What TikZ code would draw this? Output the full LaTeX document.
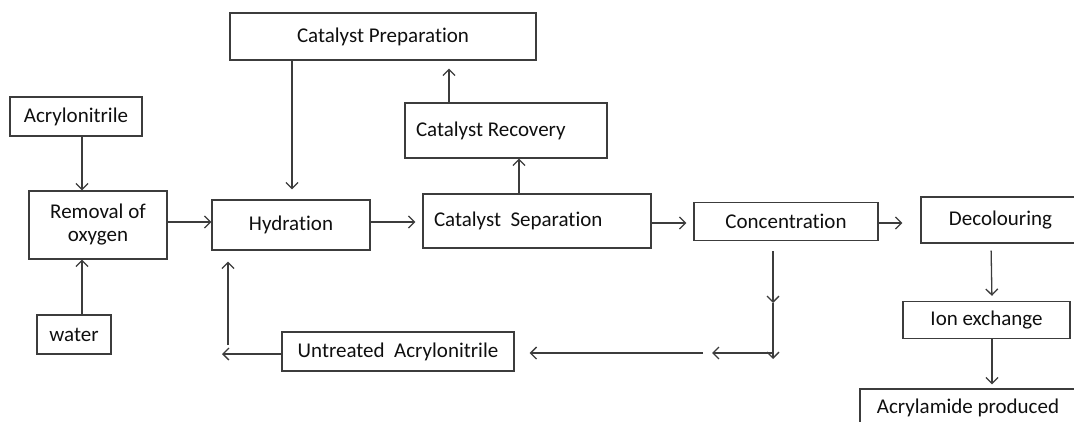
\documentclass[tikz,border=0pt]{standalone}
\usepackage{fontspec}
\setmainfont[Ligatures=NoCommon]{Carlito}
\definecolor{linegray}{RGB}{60, 60, 60}
\definecolor{textgray}{RGB}{15, 15, 15}
\usepackage{tikz}
\usetikzlibrary{arrows.meta, calc}
\tikzset{
    box/.style={rectangle, draw=linegray, line width=1.3pt, inner sep=0pt, align=center, text=textgray, font=\fontsize{21}{23}\selectfont},
    leftbox/.style={box, inner xsep=11pt, align=flush left},
    arrow/.style={line width=1.3pt, linegray, -{Straight Barb[length=6pt, width=12pt, line width=1.3pt]}},
    plain/.style={line width=1.3pt, linegray}
}

\begin{document}
\begin{tikzpicture}[x=1pt, y=-1pt]
    \useasboundingbox (0,0) rectangle (1074,421);
    \clip (0,0) rectangle (1074,421);

    % Feed side
    \node[box, minimum width=132pt, minimum height=39pt] (acrylo) at (76, 116.5) {Acrylonitrile};
    \node[box, minimum width=138pt, minimum height=68pt] (removal) at (98, 225) {Removal of\\oxygen};
    \node[box, minimum width=74pt, minimum height=39pt] (water) at (74, 334.5) {water};

    % Reactor and catalyst loop
    \node[box, minimum width=158pt, minimum height=50pt] (hydration) at (291, 225) {Hydration};
    \node[box, minimum width=306pt, minimum height=47pt] (catprep) at (383, 36.5) {Catalyst Preparation};
    \node[leftbox, text width=180pt, minimum height=55pt] (catrec) at (506, 130.5) {Catalyst Recovery};
    \node[leftbox, text width=206pt, minimum height=54pt] (catsep) at (537, 221) {Catalyst\ \ Separation};

    % Product side
    \node[box, minimum width=184pt, minimum height=38pt] (conc) at (786, 221.5) {Concentration};
    \node[box, minimum width=159pt, minimum height=46pt] (decol) at (1000.5, 220) {Decolouring};
    \node[box, minimum width=167pt, minimum height=37pt] (ionex) at (986.5, 320) {Ion exchange};
    \node[box, minimum width=216pt, minimum height=38pt] (product) at (968, 408) {Acrylamide produced};

    % Recycle
    \node[box, minimum width=232pt, minimum height=39pt] (untreated) at (398, 351.5) {Untreated\ \ Acrylonitrile};
    \coordinate (drop) at (773, 303);
    \coordinate (dropend) at (773, 359);
    \coordinate (bend) at (773, 353);
    \coordinate (midtip) at (712, 353);
    \coordinate (midgap) at (703, 353);
    \coordinate (ret) at (222, 354);
    \coordinate (rise) at (228, 345);

    % Arrows
    \draw[arrow] ($(acrylo.south)+(6,0)$) -- ($(removal.north)+(-16,0)$);
    \draw[arrow] ($(water.north)+(8,0)$) -- ($(removal.south)+(-16,0)$);
    \draw[arrow] (removal.east |- 0,222) -- (hydration.west |- 0,222);
    \draw[arrow, shorten >=10pt] ($(catprep.south)+(-91,0)$) -- ($(hydration.north)+(1,0)$);
    \draw[arrow, shorten >=7pt] (hydration.east |- 0,222) -- (catsep.west |- 0,222);
    \draw[arrow] ($(catsep.north)+(-18,0)$) -- ($(catrec.south)+(13,0)$);
    \draw[arrow, shorten >=8pt] ($(catrec.north)+(-57,0)$) -- ($(catprep.south)+(66,0)$);
    \draw[arrow, shorten >=7pt] (catsep.east |- 0,223) -- (conc.west |- 0,223);
    \draw[arrow, shorten >=18pt] (conc.east |- 0,223) -- (decol.west |- 0,223);
    \draw[arrow, shorten <=7pt, shorten >=5pt] ($(decol.south)+(-9.5,0)$) -- ($(ionex.north)+(5.5,0)$);
    \draw[arrow, shorten >=4pt] ($(ionex.south)+(5.5,0)$) -- ($(product.north)+(24,0)$);

    \draw[arrow, shorten <=10pt] (conc.south -| drop) -- (drop);
    \draw[arrow] (drop) -- (dropend);
    \draw[arrow] (bend) -- (midtip);
    \draw[arrow, shorten >=15pt] (midgap) -- (untreated.east |- midgap);
    \draw[arrow] (untreated.west |- ret) -- (ret);
    \draw[arrow, shorten >=11pt] (rise) -- (rise |- hydration.south);
\end{tikzpicture}
\end{document}
